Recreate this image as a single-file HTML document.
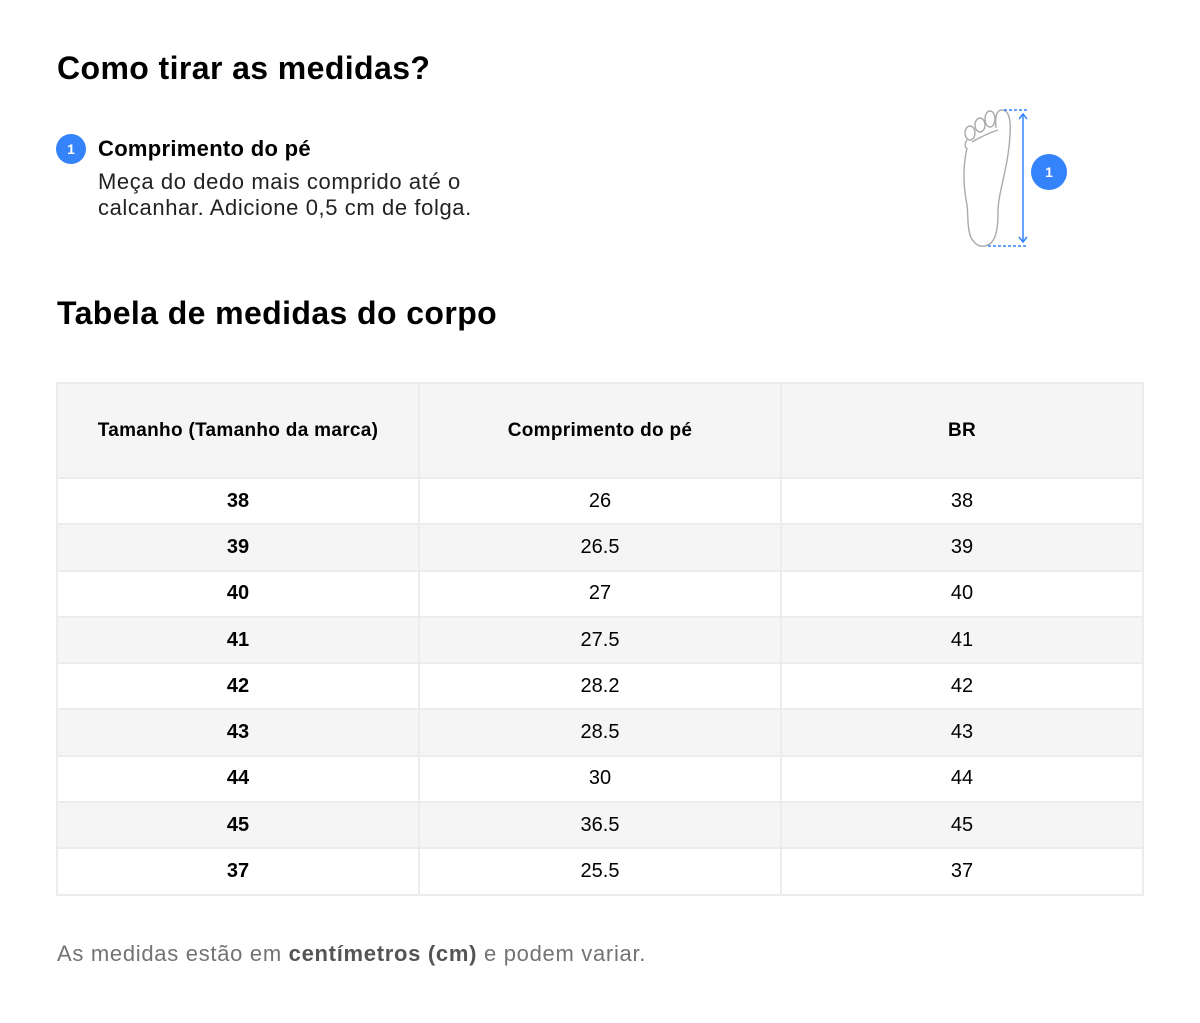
<!DOCTYPE html>
<html><head><meta charset="utf-8"><style>
body{margin:0;width:1200px;height:1023px;background:#fff;font-family:"Liberation Sans",sans-serif;color:#000;position:relative;overflow:hidden}
.a{position:absolute}
h1{position:absolute;margin:0;font-size:32px;font-weight:bold;left:57px;letter-spacing:0.4px}
table{position:absolute;left:56px;top:382px;width:1088px;border-collapse:collapse;table-layout:fixed}
td{border:2px solid #ececec;text-align:center;font-size:20px;padding:0;background:#fff}
tr{height:46.3px}
tr:nth-child(odd) td{background:#f5f5f5}
tr.h{height:95px}
tr.h td{background:#f5f5f5;font-weight:bold;font-size:19px;letter-spacing:0.3px}
td:first-child{font-weight:bold}
</style></head><body>
<h1 style="top:50px">Como tirar as medidas?</h1>
<div class="a" style="left:56px;top:134px;width:30px;height:30px;border-radius:50%;background:#3483fa;color:#fff;font-size:14px;font-weight:bold;text-align:center;line-height:30px">1</div>
<div class="a" style="left:98px;top:136px;font-size:22px;font-weight:bold;letter-spacing:0.3px">Comprimento do pé</div>
<div class="a" style="left:98px;top:169px;font-size:22px;line-height:26px;color:#222;letter-spacing:0.6px">Meça do dedo mais comprido até o<br>calcanhar. Adicione 0,5 cm de folga.</div>
<svg class="a" style="left:940px;top:100px" width="140" height="160" viewBox="0 0 140 160" fill="none" stroke="#aaa" stroke-width="1.4">
<path d="M27 48 C22 70 24 90 27 105 C29 120 25 140 40 146 C56 148 58 130 58 112 C58 92 68 70 70 35"/>
<path d="M70 35 C71 20 69 10 62 10 C56 10 55 18 56 28"/>
<ellipse cx="50" cy="19" rx="5" ry="8"/>
<ellipse cx="40" cy="25" rx="5" ry="7"/>
<ellipse cx="30" cy="33" rx="5" ry="7"/>
<path d="M27 40 C24 44 25 48 27 48"/>
<path d="M32 42 C42 36 52 32 58 30"/>
<line x1="64" y1="10" x2="88" y2="10" stroke="#3483fa" stroke-width="1.5" stroke-dasharray="3,2"/>
<line x1="48" y1="146" x2="88" y2="146" stroke="#3483fa" stroke-width="1.5" stroke-dasharray="3,2"/>
<line x1="83" y1="14" x2="83" y2="142" stroke="#3483fa" stroke-width="1.5"/>
<path d="M79 19 L83 14 L87 19 M79 137 L83 142 L87 137" stroke="#3483fa" stroke-width="1.5"/>
<circle cx="109" cy="72" r="18" fill="#3483fa" stroke="none"/>
<text x="109" y="77" fill="#fff" stroke="none" font-size="14" font-weight="bold" text-anchor="middle" font-family="Liberation Sans">1</text>
</svg>
<h1 style="top:295px">Tabela de medidas do corpo</h1>
<table>
<tr class="h"><td>Tamanho (Tamanho da marca)</td><td>Comprimento do pé</td><td>BR</td></tr>
<tr><td>38</td><td>26</td><td>38</td></tr>
<tr><td>39</td><td>26.5</td><td>39</td></tr>
<tr><td>40</td><td>27</td><td>40</td></tr>
<tr><td>41</td><td>27.5</td><td>41</td></tr>
<tr><td>42</td><td>28.2</td><td>42</td></tr>
<tr><td>43</td><td>28.5</td><td>43</td></tr>
<tr><td>44</td><td>30</td><td>44</td></tr>
<tr><td>45</td><td>36.5</td><td>45</td></tr>
<tr><td>37</td><td>25.5</td><td>37</td></tr>
</table>
<div class="a" style="left:57px;top:941px;font-size:22px;color:#737373;letter-spacing:0.7px">As medidas estão em <b style="color:#555">centímetros (cm)</b> e podem variar.</div>
</body></html>
